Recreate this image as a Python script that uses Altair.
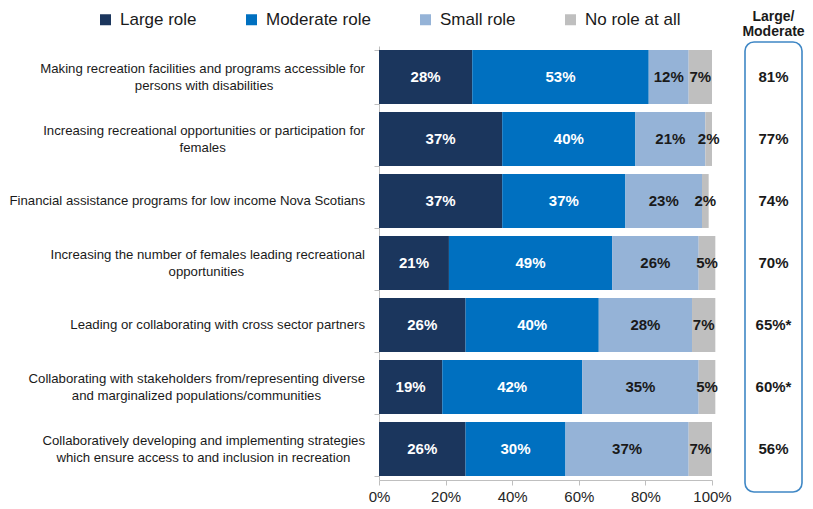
import altair as alt
import pandas as pd

# ---------------- data ----------------
items = [
    "Making recreation facilities and programs accessible for|persons with disabilities",
    "Increasing recreational opportunities or participation for|females",
    "Financial assistance programs for low income Nova Scotians",
    "Increasing the number of females leading recreational|opportunities",
    "Leading or collaborating with cross sector partners",
    "Collaborating with stakeholders from/representing diverse|and marginalized populations/communities",
    "Collaboratively developing and implementing strategies|which ensure access to and inclusion in recreation",
]
roles = ["Large role", "Moderate role", "Small role", "No role at all"]
large = [28, 37, 37, 21, 26, 19, 26]
moderate = [53, 40, 37, 49, 40, 42, 30]
small = [12, 21, 23, 26, 28, 35, 37]
no_role = [7, 2, 2, 5, 7, 5, 7]
combined = ["81%", "77%", "74%", "70%", "65%*", "60%*", "56%"]
colors = ["#1b365d", "#0070c0", "#95b3d7", "#bfbfbf"]
x_ticks = [0, 20, 40, 60, 80, 100]

FONT = "Liberation Sans"

# approximate advance widths (Arial metrics) used only to centre the
# second line of two-line labels under the first one
W = dict(zip("abcdefghijklmnopqrstuvwxyz",
             [556, 556, 500, 556, 556, 278, 556, 556, 222, 222, 500, 222, 833,
              556, 556, 556, 556, 333, 500, 278, 556, 500, 722, 500, 500, 500]))
W.update({" ": 278, "/": 278, "M": 833, "I": 278, "F": 611, "N": 722,
          "S": 667, "L": 556, "C": 722})


def tw(s):
    return sum(W.get(c, 556) for c in s)


def centre_lines(label):
    lines = label.split("|")
    if len(lines) == 1:
        return label
    w = max(tw(l) for l in lines)
    # trailing no-break spaces (kept alive by a zero-width space) centre the line
    return "|".join(l + "\u00a0" * round((w - tw(l)) / 2 / 278) + "\u200b"
                    for l in lines)


disp = [centre_lines(s) for s in items]

rows = []
for i, it in enumerate(disp):
    for k, (role, vals) in enumerate(zip(roles, [large, moderate, small, no_role])):
        rows.append({"item": it, "role": role, "value": vals[i], "order": k})
df = pd.DataFrame(rows)

ldf = pd.DataFrame({"item": disp, "two": ["|" in s for s in disp]})

PLOT_W = 333
PLOT_H = 434

yscale = alt.Scale(paddingInner=0.13, paddingOuter=0.065)

base = (
    alt.Chart(df)
    .transform_stack(stack="value", groupby=["item"], as_=["x0", "x1"],
                     sort=[alt.SortField("order", order="ascending")])
    .transform_calculate(mid="(datum.x0 + datum.x1) / 2",
                         label="datum.value + '%'")
)

y_enc = alt.Y(
    "item:N", sort=disp, title=None, scale=yscale,
    axis=alt.Axis(labels=False, tickBand="extent", tickSize=5,
                  tickColor="#bfbfbf", domainColor="#bfbfbf"),
)

bars = base.mark_bar().encode(
    y=y_enc,
    x=alt.X("x0:Q", scale=alt.Scale(domain=[0, 100], nice=False),
            axis=alt.Axis(values=x_ticks, labelExpr="datum.value + '%'",
                          labelFont=FONT, labelFontSize=15, labelColor="#262626",
                          labelFlush=False, grid=False, tickColor="#bfbfbf",
                          domainColor="#bfbfbf", tickSize=5, labelPadding=4,
                          title=None)),
    x2="x1:Q",
    color=alt.Color("role:N", scale=alt.Scale(domain=roles, range=colors),
                    legend=alt.Legend(title=None, orient="none", legendX=-282,
                                      legendY=-35, direction="horizontal",
                                      symbolType="square", symbolSize=121,
                                      symbolStrokeWidth=0, labelFont=FONT,
                                      labelFontSize=17, labelColor="#1a1a1a",
                                      columnPadding=46, labelOffset=6)),
)

texts = base.mark_text(font=FONT, fontWeight="bold", fontSize=15).encode(
    y=alt.Y("item:N", sort=disp),
    x=alt.X("mid:Q"),
    text="label:N",
    color=alt.condition("datum.order < 2", alt.value("white"), alt.value("#1a1a1a")),
)

lab_common = dict(font=FONT, fontSize=13.2, lineHeight=16.5, align="right",
                  color="#1a1a1a", lineBreak="|", dx=-14)
labels_one = alt.Chart(ldf).transform_filter("!datum.two").mark_text(
    baseline="middle", **lab_common
).encode(y=alt.Y("item:N", sort=disp), x=alt.datum(0), text="item:N")
labels_two = alt.Chart(ldf).transform_filter("datum.two").mark_text(
    baseline="line-bottom", **lab_common
).encode(y=alt.Y("item:N", sort=disp), x=alt.datum(0), text="item:N")

left = alt.layer(bars, texts, labels_one, labels_two).properties(
    width=PLOT_W, height=PLOT_H)

rdf = pd.DataFrame({"item": disp, "combined": combined})
box = alt.Chart(pd.DataFrame({"k": [0]})).mark_rect(
    fill="white", stroke="#3f87c5", strokeWidth=1.6, cornerRadius=9
).encode(x=alt.value(0), x2=alt.value(57), y=alt.value(-4), y2=alt.value(PLOT_H + 12))

vals = alt.Chart(rdf).mark_text(font=FONT, fontWeight="bold", fontSize=15,
                                color="#1a1a1a").encode(
    y=alt.Y("item:N", sort=disp, axis=None, scale=yscale),
    x=alt.value(28.5),
    text="combined:N",
)

right = alt.layer(box, vals).properties(
    width=57, height=PLOT_H,
    title=alt.TitleParams(["Large/", "Moderate"], fontSize=14, fontWeight="bold",
                          font=FONT, color="#1a1a1a", anchor="middle",
                          lineHeight=15, offset=2),
)

chart = (
    alt.hconcat(left, right, spacing=10)
    .properties(padding={"left": 1, "top": 2, "right": 0, "bottom": 0})
    .configure_view(stroke=None)
)

chart.save("out.html", embed_options={"renderer": "svg", "actions": False})
